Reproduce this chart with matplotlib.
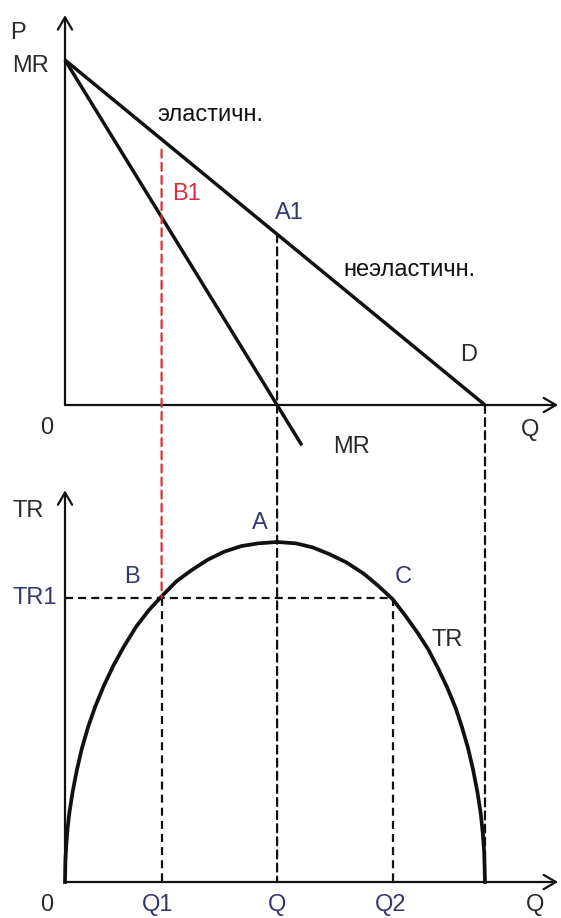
import matplotlib
matplotlib.use("Agg")
import matplotlib.pyplot as plt
from matplotlib.patches import ConnectionPatch

plt.rcParams['font.family'] = ['Liberation Sans', 'DejaVu Sans']

# demand and marginal revenue (price axis 0..10, quantity axis 0..10)
d_q = [0, 10]
d_p = [10, 0]
mr_q = [0, 5.64]
mr_p = [10, -1.17]

q1 = 2.3        # Q1
q_mid = 5.05    # Q (unit elasticity)
q2 = 7.8        # Q2
q_max = 10      # D meets the Q axis
p_b1 = 7.4      # top of the red dashed line
p_a1 = 4.95     # A1 on the demand line
tr1 = 20.9      # TR1 level

# total revenue curve
tr_q = [0, 0.01, 0.03, 0.06, 0.1, 0.18, 0.28, 0.4, 0.55, 0.72, 0.92, 1.15, 1.4, 1.7,
        2.0, 2.3, 2.65, 3.0, 3.4, 3.8, 4.2, 4.6, 5.05, 5.5, 5.9, 6.3, 6.7, 7.1, 7.45,
        7.8, 8.1, 8.4, 8.65, 8.9, 9.1, 9.3, 9.45, 9.6, 9.72, 9.82, 9.9, 9.95, 9.98, 10]
tr_v = [0, 1.6, 2.7, 3.9, 5.0, 6.6, 8.2, 9.8, 11.4, 12.9, 14.4, 15.9, 17.3, 18.8,
        20.0, 21.0, 22.1, 22.9, 23.7, 24.3, 24.7, 24.9, 25.0, 24.9, 24.6, 24.1, 23.5, 22.7, 21.8,
        20.8, 19.6, 18.3, 17.1, 15.6, 14.3, 12.8, 11.4, 9.8, 8.2, 6.6, 5.0, 3.5, 2.2, 0]

black = "#111111"
grey = "#2a2a2a"
blue = "#34386e"
red = "#d9303c"
dash = (0, (3.6, 2.3))

fig = plt.figure(figsize=(5.61, 9.18), dpi=100)
ax1 = fig.add_axes([0, 1 - 465 / 918, 1, 465 / 918])
ax2 = fig.add_axes([0, 0, 1, 453 / 918])
ax1.set_xlim(-65 / 42, 496 / 42)
ax1.set_ylim(-60 / 34.5, 405 / 34.5)
ax2.set_xlim(-65 / 42, 496 / 42)
ax2.set_ylim(-36 / 13.6, 417 / 13.6)
for ax in (ax1, ax2):
    ax.set_axis_off()

arrow = dict(arrowstyle="->,head_length=0.55,head_width=0.32", lw=1.6, color=black,
             mutation_scale=16, shrinkA=0, shrinkB=0)

# top panel axes
ax1.annotate("", xy=(11.74, 0), xytext=(0, 0), arrowprops=arrow)
ax1.annotate("", xy=(0, 11.3), xytext=(0, 0), arrowprops=arrow)
# bottom panel axes
ax2.annotate("", xy=(11.74, 0), xytext=(0, 0), arrowprops=arrow)
ax2.annotate("", xy=(0, 28.8), xytext=(0, 0), arrowprops=arrow)

# dashed guides crossing both panels
for q, p in [(q_mid, p_a1), (q_max, 0)]:
    con = ConnectionPatch(xyA=(q, p), coordsA=ax1.transData, xyB=(q, 0), coordsB=ax2.transData,
                          linestyle=dash, lw=1.6, color=black, zorder=1)
    fig.add_artist(con)
con = ConnectionPatch(xyA=(q1, p_b1), coordsA=ax1.transData, xyB=(q1, tr1), coordsB=ax2.transData,
                      linestyle=dash, lw=1.6, color=red, zorder=1)
fig.add_artist(con)

ax2.plot([q1, q1], [tr1, 0], color=black, lw=1.6, linestyle=dash, zorder=1)
ax2.plot([q2, q2], [tr1, 0], color=black, lw=1.6, linestyle=dash, zorder=1)
ax2.plot([0, q2], [tr1, tr1], color=black, lw=1.6, linestyle=dash, zorder=1)

# curves
ax1.plot(d_q, d_p, color=black, lw=2.5, solid_capstyle="butt", zorder=3)
ax1.plot(mr_q, mr_p, color=black, lw=2.5, solid_capstyle="butt", zorder=3)
ax2.plot(tr_q, tr_v, color=black, lw=2.7, solid_joinstyle="round", zorder=3)

fs = 17
# top panel labels
ax1.text(-1.31, 10.78, "P", color=grey, fontsize=fs, ha="left", va="center")
ax1.text(-1.26, 9.83, "MR", color=grey, fontsize=fs, ha="left", va="center")
ax1.text(2.21, 8.41, "эластичн.", color=black, fontsize=fs, ha="left", va="center")
ax1.text(2.55, 6.12, "B1", color=red, fontsize=fs, ha="left", va="center")
ax1.text(5.0, 5.57, "A1", color=blue, fontsize=fs, ha="left", va="center")
ax1.text(6.62, 3.91, "неэластичн.", color=black, fontsize=fs, ha="left", va="center")
ax1.text(9.6, 1.45, "D", color=grey, fontsize=fs, ha="center", va="center")
ax1.text(11.07, -0.72, "Q", color=grey, fontsize=fs, ha="center", va="center")
ax1.text(6.81, -1.22, "MR", color=grey, fontsize=fs, ha="center", va="center")
ax1.text(-0.43, -0.67, "0", color=grey, fontsize=fs, ha="center", va="center")

# bottom panel labels
ax2.text(-1.26, 27.3, "TR", color=grey, fontsize=fs, ha="left", va="center")
ax2.text(-1.26, tr1, "TR1", color=blue, fontsize=fs, ha="left", va="center")
ax2.text(1.6, 22.4, "B", color=blue, fontsize=fs, ha="center", va="center")
ax2.text(4.64, 26.4, "A", color=blue, fontsize=fs, ha="center", va="center")
ax2.text(8.05, 22.4, "C", color=blue, fontsize=fs, ha="center", va="center")
ax2.text(9.1, 17.8, "TR", color=grey, fontsize=fs, ha="center", va="center")
ax2.text(-0.43, -1.69, "0", color=grey, fontsize=fs, ha="center", va="center")
ax2.text(q1 - 0.1, -1.69, "Q1", color=blue, fontsize=fs, ha="center", va="center")
ax2.text(q_mid, -1.69, "Q", color=blue, fontsize=fs, ha="center", va="center")
ax2.text(q2 - 0.05, -1.69, "Q2", color=blue, fontsize=fs, ha="center", va="center")
ax2.text(11.19, -1.69, "Q", color=grey, fontsize=fs, ha="center", va="center")

fig.savefig("out.png", dpi=100, facecolor="white")
